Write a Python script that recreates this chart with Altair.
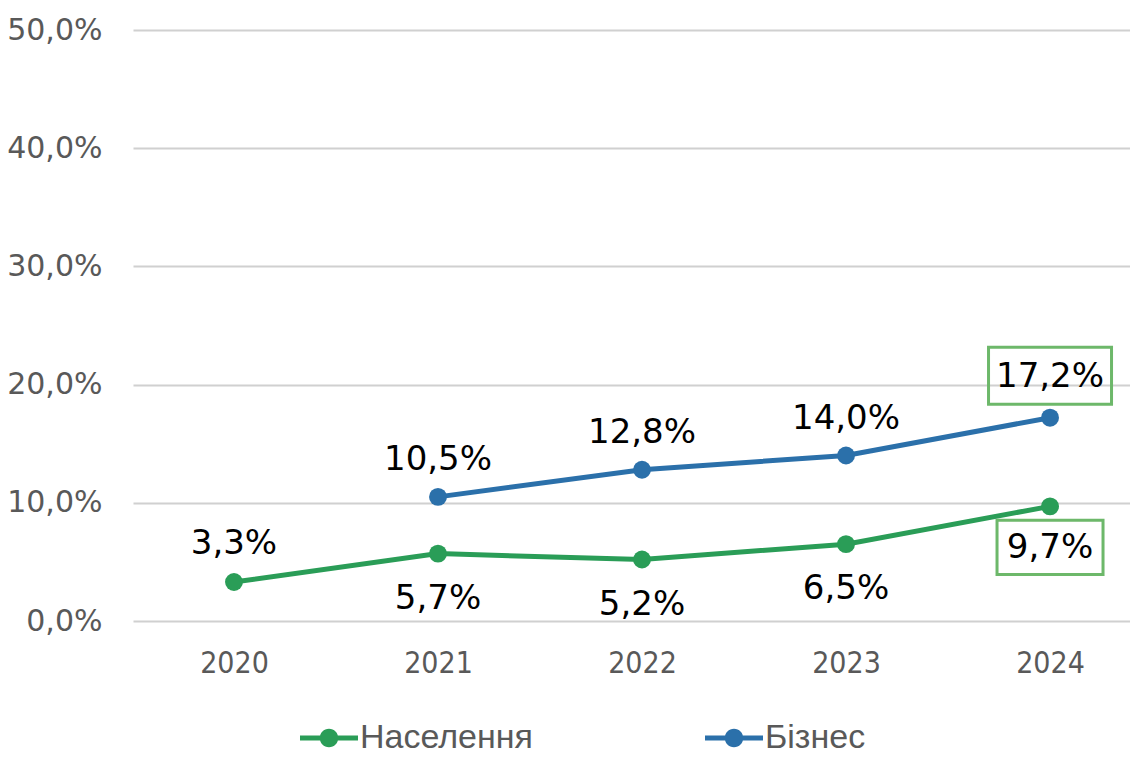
import altair as alt
import pandas as pd

years = [2020, 2021, 2022, 2023, 2024]
series_names = ["Населення", "Бізнес"]
naselennia = [3.3, 5.7, 5.2, 6.5, 9.7]
biznes = [None, 10.5, 12.8, 14.0, 17.2]
colors = ["#2A9D57", "#2B70AA"]
y_ticks = [0, 10, 20, 30, 40, 50]

rows = []
for s, vals in zip(series_names, [naselennia, biznes]):
    for yr, v in zip(years, vals):
        if v is not None:
            rows.append({"year": yr, "series": s, "value": v,
                         "label": f"{v:.1f}".replace(".", ",") + "%"})
df = pd.DataFrame(rows)

x_scale = alt.Scale(domain=[2019.505, 2024.392], nice=False, zero=False)
x_enc = alt.X("year:Q", scale=x_scale,
              axis=alt.Axis(title=None, values=years, format="d", labelAngle=0,
                            labelFont="DejaVu Sans Condensed, Liberation Sans",
                            labelFontSize=30, labelColor="#595959", labelPadding=27,
                            ticks=False, domain=False, grid=False))
y_enc = alt.Y("value:Q", scale=alt.Scale(domain=[0, 50], nice=False),
              axis=alt.Axis(title=None, values=y_ticks,
                            labelExpr="replace(format(datum.value, '.1f'), '.', ',') + '%'",
                            labelFont="DejaVu Sans", labelFontSize=30, labelColor="#595959",
                            labelPadding=31, ticks=False, domain=False,
                            gridColor="#D0D0D0", gridWidth=2))
color_enc = alt.Color("series:N", scale=alt.Scale(domain=series_names, range=colors),
                      legend=alt.Legend(title=None, orient="none", direction="horizontal",
                                        legendX=167, legendY=679,
                                        symbolType="M-1,-0.09 L1,-0.09 L1,0.09 L-1,0.09 Z M0.32,0 A0.32,0.32 0 1,1 -0.32,0 A0.32,0.32 0 1,1 0.32,0 Z",
                                        symbolSize=3364, symbolStrokeWidth=0,
                                        labelFont="Liberation Sans", labelFontSize=34, labelColor="#595959",
                                        labelOffset=2, columnPadding=172, labelLimit=400))

base = alt.Chart(df)
lines = base.mark_line(strokeWidth=5).encode(x=x_enc, y=y_enc, color=color_enc)
points = base.mark_point(filled=True, opacity=1, size=320, shape="circle").encode(
    x="year:Q", y="value:Q", color=alt.Color("series:N", legend=None,
                                               scale=alt.Scale(domain=series_names, range=colors)))

txt = dict(font="DejaVu Sans", fontSize=34, color="#000000", baseline="middle", align="center")
lab_n_above = base.transform_filter("datum.series == 'Населення' && datum.year == 2020").mark_text(dy=-38, **txt).encode(x="year:Q", y="value:Q", text="label:N")
lab_n_below = base.transform_filter("datum.series == 'Населення' && datum.year != 2020 && datum.year != 2024").mark_text(dy=45, **txt).encode(x="year:Q", y="value:Q", text="label:N")
lab_n_box = base.transform_filter("datum.series == 'Населення' && datum.year == 2024").mark_text(dy=42, **txt).encode(x="year:Q", y="value:Q", text="label:N")
lab_b_above = base.transform_filter("datum.series == 'Бізнес' && datum.year != 2024").mark_text(dy=-37, **txt).encode(x="year:Q", y="value:Q", text="label:N")
lab_b_box = base.transform_filter("datum.series == 'Бізнес' && datum.year == 2024").mark_text(dy=-41, **txt).encode(x="year:Q", y="value:Q", text="label:N")

box_b = base.transform_filter("datum.series == 'Бізнес' && datum.year == 2024").mark_point(
    shape="M-1,-0.463 L1,-0.463 L1,0.463 L-1,0.463 Z", size=61.5 * 61.5 * 4, filled=False,
    stroke="#6DB86A", strokeWidth=3, opacity=1, yOffset=-42).encode(x="year:Q", y="value:Q")
box_n = base.transform_filter("datum.series == 'Населення' && datum.year == 2024").mark_point(
    shape="M-1,-0.51 L1,-0.51 L1,0.51 L-1,0.51 Z", size=53 * 53 * 4, filled=False,
    stroke="#6DB86A", strokeWidth=3, opacity=1, yOffset=41).encode(x="year:Q", y="value:Q")

chart = alt.layer(lines, points, lab_n_above, lab_n_below, lab_n_box, lab_b_above, lab_b_box, box_b, box_n).properties(
    width=997, height=591,
    autosize=alt.AutoSizeParams(type="none"),
    padding={"left": 125, "top": 22, "right": 0, "bottom": 129},
).configure(background="white", view=alt.ViewConfig(stroke=None))

chart.save("out.html", embed_options={"renderer": "svg", "actions": False})
